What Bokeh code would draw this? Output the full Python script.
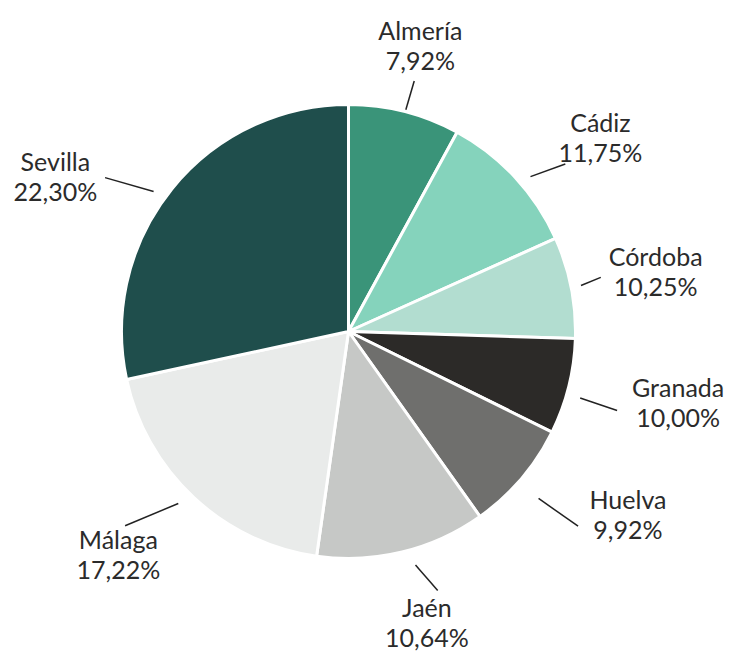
import math
from bokeh.plotting import figure
from bokeh.models import Range1d, ColumnDataSource
from bokeh.core.properties import value
from bokeh.embed import file_html
from bokeh.resources import INLINE

# ---- data ----
provinces = ["Almería", "Cádiz", "Córdoba", "Granada", "Huelva", "Jaén", "Málaga", "Sevilla"]
slice_shares = [7.94, 10.33, 7.22, 6.81, 7.86, 12.08, 19.36, 28.39]   # drawn slice sizes
pct_labels = ["7,92%", "11,75%", "10,25%", "10,00%", "9,92%", "10,64%", "17,22%", "22,30%"]
colors = ["#3a9479", "#85d3bc", "#b2ddd0", "#2c2a28", "#6f6f6d", "#c6c8c6", "#e9ebea", "#1f4e4c"]

# ---- layout (styles / positions) ----
W, H = 731, 655
CX, CY, R = 348, H - 331, 227
label_ang = [14.1, 52.4, 78.9, 102.0, 123.2, 164.9, 226.0, 298.0]   # deg clockwise from top
label_rad = [295, 318, 313, 337, 334, 301, 320, 332]
lead_a0 = [14.5, 49.6, 78.8, 106.0, 131.3, 164.0, 224.7, 305.7]
lead_r0 = [229, 239, 237, 241, 253, 243, 242, 240]
lead_a1 = [14.7, 52.3, 77.9, 106.4, 130.3, 161.0, 229.0, 302.3]
lead_r1 = [259, 274, 258, 280, 301, 274, 296, 288]

total = sum(slice_shares)
starts, ends = [], []
cum = 0.0
for v in slice_shares:
    a0 = math.pi / 2 - 2 * math.pi * cum / total
    cum += v
    a1 = math.pi / 2 - 2 * math.pi * cum / total
    starts.append(a0)
    ends.append(a1)

src = ColumnDataSource(dict(x=[CX] * len(provinces), y=[CY] * len(provinces),
                            start=starts, end=ends, color=colors, name=provinces))

p = figure(width=W, height=H, x_range=Range1d(0, W), y_range=Range1d(0, H),
           output_backend="svg", toolbar_location=None, min_border=0)
p.axis.visible = False
p.grid.visible = False
p.outline_line_color = None
p.background_fill_color = "white"

p.wedge(x="x", y="y", radius=R, start_angle="start", end_angle="end", direction="clock",
        fill_color="color", line_color="white", line_width=3, source=src)

def polar(adeg, r):
    a = math.radians(adeg)
    return CX + r * math.sin(a), CY + r * math.cos(a)

xs0, ys0, xs1, ys1 = [], [], [], []
for a0, r0, a1, r1 in zip(lead_a0, lead_r0, lead_a1, lead_r1):
    x0, y0 = polar(a0, r0)
    x1, y1 = polar(a1, r1)
    xs0.append(x0); ys0.append(y0); xs1.append(x1); ys1.append(y1)
p.segment(x0=xs0, y0=ys0, x1=xs1, y1=ys1, line_color="#222222", line_width=1.5)

tx, ty_name, ty_pct = [], [], []
for a, r in zip(label_ang, label_rad):
    x, y = polar(a, r)
    tx.append(x); ty_name.append(y + 15); ty_pct.append(y - 15)

p.text(x=tx, y=ty_name, text=provinces, text_align="center", text_baseline="middle",
       text_font=value("Lato"), text_font_size="25px", text_color="#2b2b2b")
p.text(x=tx, y=ty_pct, text=pct_labels, text_align="center", text_baseline="middle",
       text_font=value("Lato"), text_font_size="25px", text_color="#2b2b2b")

open("out.html", "w").write(file_html(p, INLINE))
